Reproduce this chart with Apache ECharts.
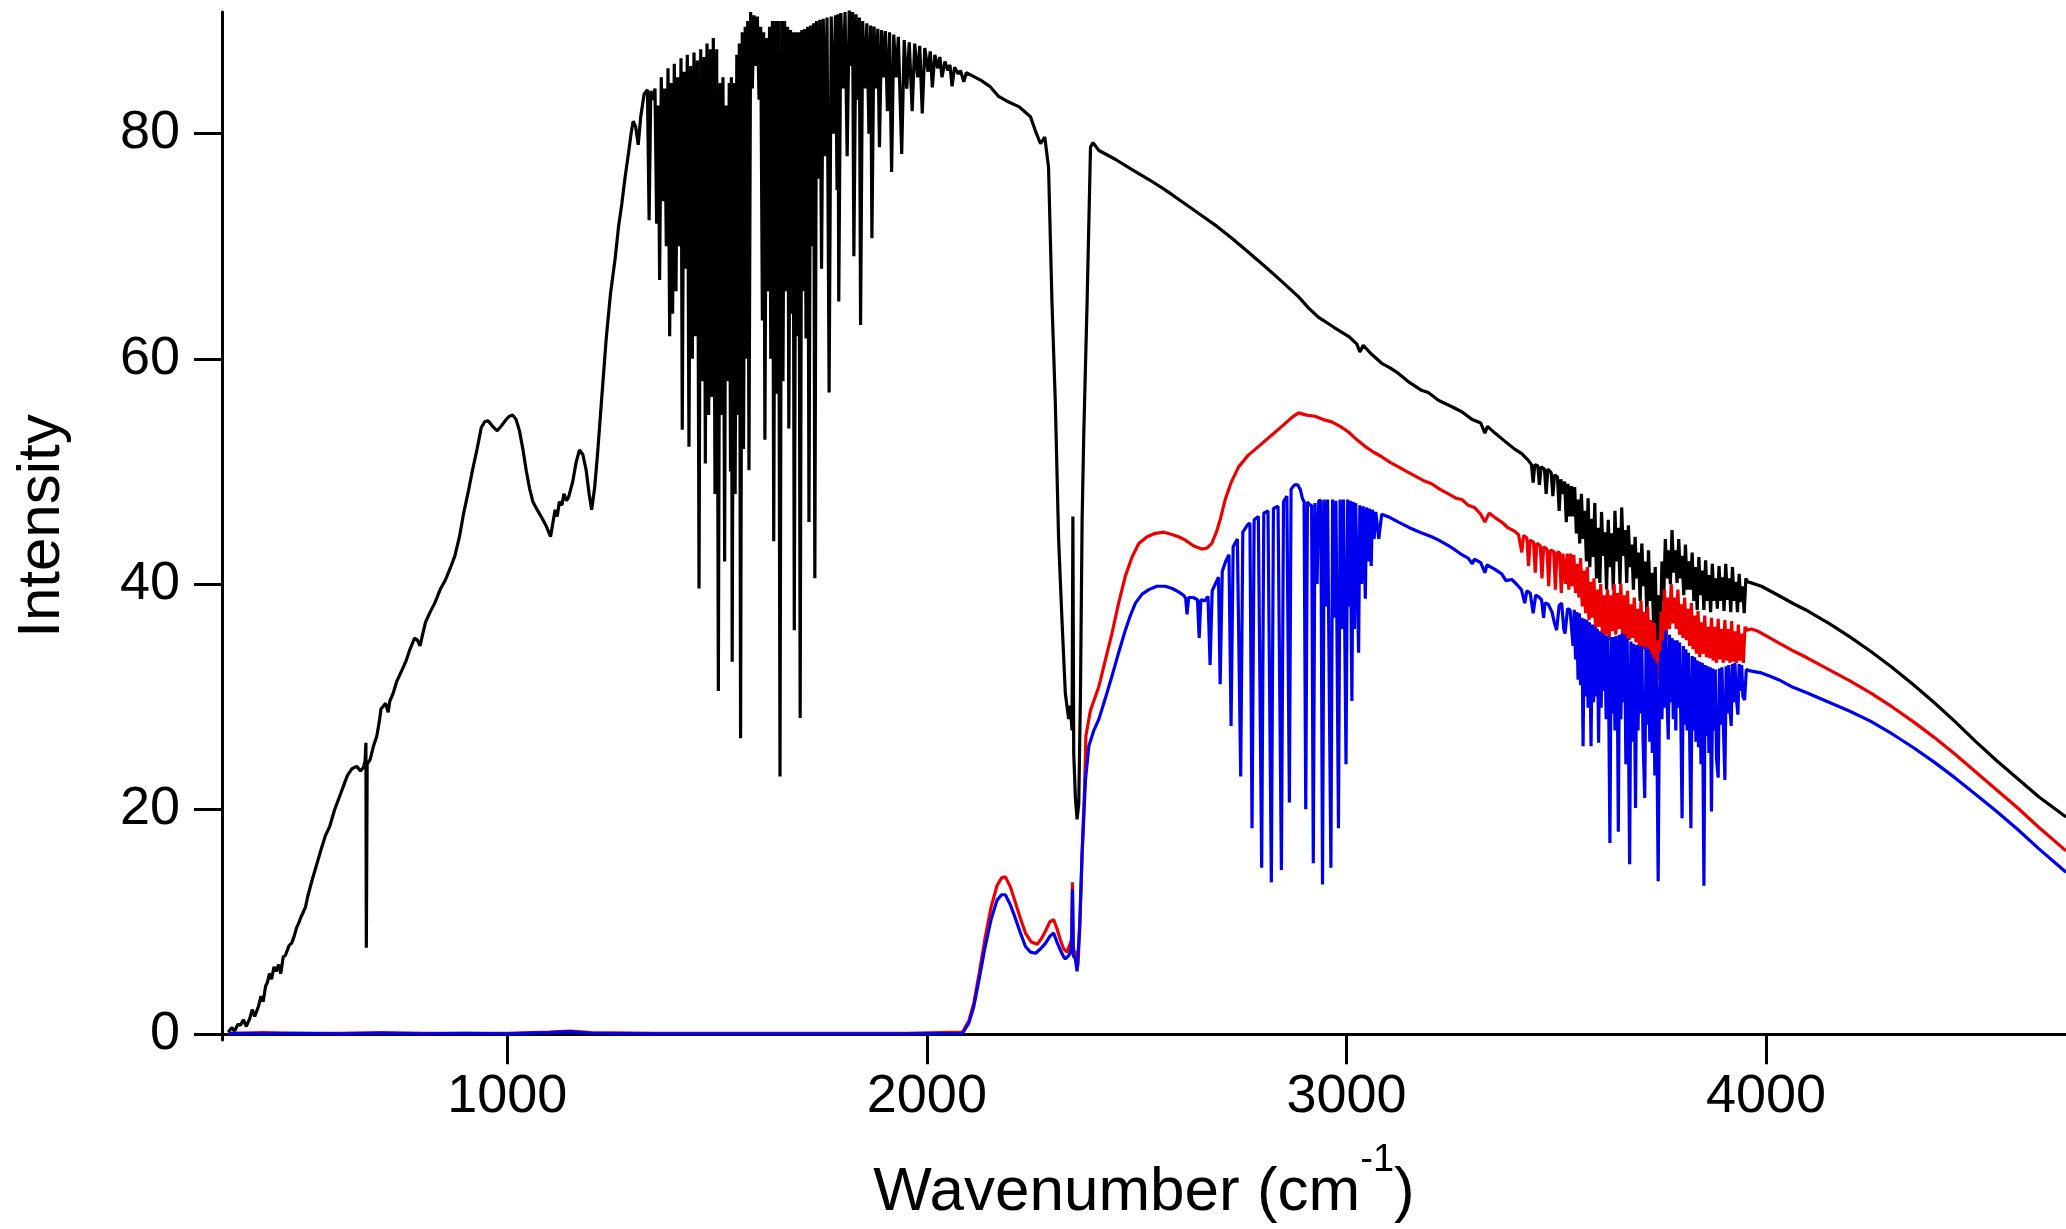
<!DOCTYPE html>
<html>
<head>
<meta charset="utf-8">
<script src="https://cdn.jsdelivr.net/npm/echarts@6/dist/echarts.min.js"></script>
<style>
  html, body { margin: 0; padding: 0; background: #fff; }
  #chart { width: 2066px; height: 1229px; }
</style>
</head>
<body>
<div id="chart"></div>
<script>
// tick values
var xTicks = [1000, 2000, 3000, 4000];
var yTicks = [0, 20, 40, 60, 80];

// black trace: [wavenumber, intensity]
var blackRise = [
  [335,0.2],[343,0.6],[350,0.3],[358,0.9],[364,0.8],[371,1.3],[378,0.7],[386,1.4],[392,2.2],[398,1.6],
  [407,2.5],[413,3.4],[418,2.9],[424,4.3],[428,4.6],[433,5.4],[438,4.9],[444,6.0],[449,5.6],[455,6.2],
  [460,5.4],[466,6.9],[471,7.0],[480,7.9],[486,8.1],[492,8.7],[498,9.5],[503,9.9],[508,10.4],[513,10.8],
  [519,11.3],[524,12.2],[534,13.6],[545,15.0],[556,16.4],[566,17.6],[577,18.5],[588,19.9],[598,20.9],
  [609,22.0],[619,23.0],[630,23.6],[641,23.8],[650,23.4],[657,23.7],[661,24.3],[663,25.9],[664,7.7],
  [666,24.0],[673,24.4],[681,25.6],[689,26.5],[695,27.8],[699,28.9],[710,29.4],[716,28.6],[720,29.6],
  [728,30.3],[736,31.3],[747,32.2],[758,33.1],[768,34.2],[779,35.2],[786,35.0],[792,34.5],[798,35.5],
  [805,36.6],[816,37.5],[827,38.3],[840,39.5],[853,40.4],[864,41.4],[875,42.5],[886,44.2],[896,46.3],
  [907,48.2],[917,50.1],[928,52.0],[938,53.9],[946,54.4],[954,54.5],[965,54.0],[976,53.6],[987,54.1],
  [997,54.6],[1005,54.9],[1013,55.0],[1021,54.6],[1029,53.6],[1037,52.0],[1045,50.1],[1053,48.5],
  [1061,47.3],[1071,46.6],[1082,45.9],[1092,45.2],[1103,44.2],[1109,45.5],[1114,46.6],[1119,46.0],
  [1124,47.3],[1130,47.0],[1135,48.0],[1141,47.4],[1146,47.7],[1151,48.4],[1156,49.1],[1164,50.8],
  [1172,51.9],[1180,51.5],[1188,50.1],[1195,48.0],[1201,46.6],[1208,48.5],[1215,51.5],[1225,56.5],
  [1236,61.9],[1246,65.8],[1257,68.9],[1265,71.7],[1273,73.8],[1281,76.2],[1289,78.3],[1295,80.0],
  [1300,81.1],[1306,80.6],[1312,79.0],[1318,81.5],[1326,83.5],[1334,83.9],[1338,72.3],[1342,83.8],[1348,83.0]
];
var blackBand = [
  [1352,84.0],[1356,72.0],[1360,82.5],[1363,67.0],[1367,85.0],[1371,74.0],[1375,84.0],[1379,70.0],
  [1383,85.8],[1387,62.0],[1391,84.5],[1394,64.0],[1398,86.2],[1402,66.0],[1406,85.0],[1410,70.0],
  [1414,86.7],[1417,53.7],[1421,85.5],[1425,68.0],[1429,87.0],[1433,52.2],[1437,86.0],[1441,60.0],
  [1445,87.2],[1449,62.0],[1453,86.5],[1457,39.6],[1461,87.5],[1465,58.0],[1469,86.8],[1472,50.7],
  [1476,88.0],[1480,55.0],[1484,87.5],[1488,56.6],[1491,88.5],[1495,48.0],[1499,87.5],[1503,30.5],
  [1507,84.5],[1510,55.0],[1514,85.0],[1518,42.0],[1521,82.5],[1525,58.0],[1529,84.5],[1532,50.0],
  [1534,85.0],[1536,33.1],[1540,84.5],[1543,48.0],[1547,87.0],[1550,55.0],[1553,88.0],[1556,26.3],
  [1560,89.0],[1563,52.0],[1567,89.5],[1570,60.0],[1573,90.0],[1576,50.1],[1580,90.8],[1584,84.0],
  [1588,90.5],[1592,86.0],[1596,90.4],[1600,83.0],[1604,89.5],[1608,63.4],[1611,89.0],[1614,52.8],
  [1618,88.5],[1621,66.0],[1625,89.5],[1628,60.0],[1632,90.0],[1635,43.8],[1639,90.0],[1642,56.9],
  [1646,90.0],[1650,22.9],[1654,90.0],[1657,58.0],[1661,90.0],[1664,66.0],[1668,89.5],[1671,53.8],
  [1675,89.2],[1678,64.0],[1681,89.0],[1684,35.9],[1688,89.0],[1691,62.0],[1695,89.0],[1698,28.1],
  [1702,89.2],[1705,66.0],[1709,89.3],[1712,61.8],[1716,89.5],[1719,45.5],[1723,89.6],[1726,70.0],
  [1730,89.8],[1733,40.5],[1737,90.0],[1741,76.0],[1745,90.1],[1749,68.0],[1753,90.2],[1758,78.0],
  [1762,90.3],[1767,57.0],[1772,90.4],[1777,80.0],[1782,90.5],[1786,75.0],[1788,90.6],[1790,65.1],
  [1795,90.7],[1800,84.0],[1805,90.8],[1810,78.0],[1815,91.0],[1820,86.0],[1823,90.8],[1826,69.1],
  [1831,90.6],[1836,83.0],[1839,90.3],[1842,63.0],[1847,90.0],[1852,84.0],[1857,89.8],[1862,80.0],
  [1866,89.6],[1869,70.7],[1874,89.5],[1879,84.0],[1883,89.3],[1887,78.8],[1892,89.2],[1897,85.0],
  [1901,89.1],[1906,82.0],[1911,89.0],[1916,76.6],[1921,88.8],[1927,85.0],[1932,88.6],[1940,78.2],
  [1946,88.3],[1952,84.0],[1958,88.1],[1965,82.0],[1971,88.0],[1978,85.0],[1983,87.8],[1989,81.8],
  [1995,87.6],[2003,85.5],[2008,87.3],[2013,84.1],[2019,87.0],[2026,85.8],[2031,86.8],[2036,85.0],
  [2043,86.4],[2050,85.6],[2055,86.1],[2060,84.2],[2066,85.9],[2075,85.3],[2080,85.6],[2088,84.6],[2094,85.4]
];
var blackSlope = [
  [2110,85.1],[2130,84.7],[2150,84.2],[2171,83.3],[2190,82.9],[2219,82.4],[2247,81.5],[2259,80.2],
  [2271,79.1],[2281,79.7],[2290,77.0],[2298,65.2],[2306,56.3],[2314,44.0],[2322,36.8],[2330,30.3],
  [2338,28.0],[2342,29.2],[2346,27.0],[2348,46.0],[2350,25.0],[2354,21.0],[2358,19.1],[2362,20.5],
  [2366,30.0],[2370,45.7],[2374,53.4],[2382,65.2],[2390,78.8],[2396,79.2],[2410,78.5],[2450,77.7],
  [2489,76.8],[2530,75.9],[2568,75.0],[2610,73.9],[2648,72.9],[2690,71.8],[2727,70.7],[2765,69.5],
  [2806,68.2],[2845,66.9],[2886,65.5],[2910,64.5],[2933,63.7],[2970,62.8],[3005,62.0],[3025,61.3],
  [3032,60.6],[3040,61.2],[3060,60.4],[3084,59.6],[3104,59.2],[3124,58.7],[3150,57.9],[3179,57.2],
  [3195,57.0],[3220,56.3],[3243,55.9],[3275,55.3],[3300,54.6],[3320,54.3],[3330,53.4],[3336,54.0],
  [3354,53.4],[3380,52.6],[3400,52.0],[3417,51.6],[3433,51.0]
];
var blackBandB = [
  [3441,50.6],[3445,49.0],[3449,50.6],[3456,50.5],[3460,48.8],[3464,50.4],[3472,50.2],[3476,48.0],
  [3480,50.2],[3488,49.9],[3492,47.8],[3496,49.7],[3503,49.5],[3507,46.5],[3511,49.3],[3516,48.0],
  [3520,49.1],[3524,45.5],[3528,48.9],[3532,46.0],[3536,48.7],[3540,46.0],[3544,48.6],[3548,44.5],
  [3552,47.5],[3556,43.6],[3560,48.0],[3564,44.0],[3568,46.5],[3572,42.0],[3576,47.6],[3580,41.5],
  [3584,45.8],[3588,42.4],[3592,47.2],[3596,40.5],[3600,45.0],[3604,40.1],[3608,46.4],[3612,42.5],
  [3616,44.6],[3620,39.5],[3624,45.7],[3628,41.5],[3632,44.5],[3636,39.5],[3640,46.5],[3644,42.0],
  [3648,45.0],[3652,40.0],[3656,46.8],[3660,42.5],[3664,44.8],[3668,40.1],[3672,45.2],[3676,41.5],
  [3680,43.5],[3684,39.5],[3688,44.2],[3692,40.5],[3696,42.8],[3700,38.5],[3704,43.6],[3708,39.8],
  [3712,42.0],[3716,37.4],[3720,43.0],[3724,38.5],[3728,41.0],[3732,36.5],[3736,41.5],[3740,34.2],
  [3744,39.0],[3748,35.0],[3752,42.0],[3756,38.5],[3760,44.0],[3764,40.5],[3768,43.0],[3772,40.0],
  [3776,44.8],[3780,41.0],[3784,43.0],[3788,40.1],[3792,44.0],[3796,40.5],[3800,42.5],[3804,39.0],
  [3808,43.5],[3812,39.5],[3816,42.0],[3820,39.5],[3824,42.8],[3828,38.5],[3832,41.5],[3836,37.7],
  [3840,42.4],[3844,39.0],[3848,41.2],[3852,37.7],[3856,42.1],[3860,38.5],[3864,40.8],[3868,37.5],
  [3872,41.8],[3876,38.5],[3880,40.5],[3884,37.8],[3888,41.6],[3892,38.5],[3896,40.6],[3900,37.6],
  [3904,41.8],[3908,38.6],[3912,40.5],[3916,37.5],[3920,41.5],[3924,38.5],[3928,40.2],[3932,37.5],
  [3936,40.9],[3940,38.4],[3944,39.8],[3948,37.4],[3952,40.5],[3956,40.2]
];
var blackTail = [
  [3965,40.1],[3989,39.8],[4029,39.0],[4068,38.2],[4100,37.6],[4150,36.5],[4200,35.3],[4250,34.0],
  [4300,32.6],[4350,31.1],[4400,29.5],[4450,27.8],[4500,26.0],[4550,24.3],[4600,22.7],[4650,21.1],[4715,19.3]
];

// red trace
var redLow = [
  [335,0.1],[420,0.15],[500,0.1],[600,0.1],[700,0.15],[800,0.1],[900,0.1],[1000,0.1],[1100,0.2],
  [1150,0.3],[1200,0.15],[1350,0.1],[1500,0.1],[1650,0.1],[1800,0.1],[1950,0.1],[2085,0.2],[2100,1.2],
  [2112,2.8],[2125,5.5],[2139,8.6],[2153,11.3],[2167,13.2],[2178,13.9],[2187,14.0],[2199,13.1],
  [2211,11.7],[2223,10.3],[2235,9.0],[2249,8.2],[2263,8.0],[2273,8.5],[2283,9.2],[2293,10.0],[2302,10.2],
  [2310,9.4],[2318,8.4],[2326,7.6],[2334,7.3],[2342,8.1],[2345,8.5],[2347,13.5],[2349,7.5],[2354,7.3],
  [2360,6.1],[2365,10.0],[2370,16.1],[2376,22.0],[2379,26.5],[2390,28.8],[2410,30.9],[2425,33.2],
  [2441,35.6],[2457,38.3],[2473,40.7],[2489,42.4],[2505,43.6],[2525,44.2],[2544,44.5],[2565,44.6],
  [2584,44.4],[2600,44.2],[2616,43.9],[2635,43.4],[2655,43.1],[2668,43.2],[2679,43.6],[2690,44.6],
  [2699,45.7],[2711,47.5],[2725,49.0],[2743,50.4],[2765,51.4],[2790,52.2],[2818,53.1],[2846,54.0],
  [2870,54.8],[2886,55.2],[2905,55.0],[2925,54.9],[2945,54.6],[2965,54.4],[2985,54.0],[3005,53.5],
  [3025,52.8],[3045,52.2],[3065,51.7],[3084,51.3],[3104,50.8],[3124,50.4],[3143,50.0],[3163,49.6],
  [3183,49.2],[3203,48.9],[3223,48.4],[3243,48.0],[3262,47.6],[3275,47.5],[3290,47.0],[3305,46.8],
  [3320,46.2],[3330,45.5],[3340,46.3],[3354,45.9],[3370,45.5],[3385,45.0],[3400,44.7]
];
var redBand = [
  [3410,44.4],[3418,42.8],[3422,44.3],[3430,44.1],[3434,41.6],[3438,43.9],[3446,43.7],[3450,41.0],
  [3454,43.6],[3462,43.4],[3466,40.5],[3470,43.3],[3478,43.1],[3482,39.8],[3486,43.0],[3494,42.9],
  [3498,39.5],[3502,42.8],[3508,42.8],[3512,39.2],[3516,42.7],[3522,40.0],[3526,42.7],[3530,39.5],
  [3534,42.7],[3538,39.8],[3542,42.6],[3546,39.2],[3550,41.8],[3554,38.8],[3558,42.3],[3562,38.0],
  [3566,41.2],[3570,37.4],[3574,41.5],[3578,36.8],[3582,40.2],[3586,37.0],[3590,40.5],[3594,35.6],
  [3598,39.5],[3602,36.2],[3606,40.0],[3610,35.3],[3614,39.0],[3618,35.5],[3622,39.5],[3626,35.0],
  [3630,39.0],[3634,35.8],[3638,40.0],[3642,35.5],[3646,39.2],[3650,36.0],[3654,40.0],[3658,35.5],
  [3662,39.0],[3666,35.2],[3670,39.4],[3674,35.0],[3678,38.2],[3682,35.2],[3686,38.8],[3690,34.8],
  [3694,37.8],[3698,34.5],[3702,38.5],[3706,34.2],[3710,37.5],[3714,34.0],[3718,38.0],[3722,33.5],
  [3726,36.8],[3730,32.5],[3734,36.5],[3738,30.3],[3742,35.0],[3746,31.5],[3750,37.5],[3754,34.0],
  [3758,39.5],[3762,35.0],[3766,38.8],[3770,36.0],[3774,40.0],[3778,36.5],[3782,38.8],[3786,36.0],
  [3790,39.5],[3794,35.5],[3798,38.2],[3802,35.2],[3806,38.8],[3810,35.0],[3814,37.8],[3818,34.5],
  [3822,38.3],[3826,34.2],[3830,37.2],[3834,33.8],[3838,37.6],[3842,33.5],[3846,36.6],[3850,33.8],
  [3854,37.2],[3858,33.5],[3862,36.2],[3866,33.4],[3870,37.0],[3874,33.2],[3878,36.2],[3882,33.0],
  [3886,36.9],[3890,33.3],[3894,36.0],[3898,33.0],[3902,36.8],[3906,33.2],[3910,36.0],[3914,33.0],
  [3918,36.7],[3922,33.1],[3926,35.8],[3930,33.0],[3934,36.4],[3938,33.2],[3942,35.6],[3946,33.0],
  [3950,36.2],[3955,35.9]
];
var redTail = [
  [3965,36.0],[3981,35.8],[4005,35.3],[4029,34.8],[4068,34.0],[4100,33.4],[4150,32.4],[4200,31.4],
  [4250,30.3],[4300,29.1],[4350,27.8],[4400,26.4],[4450,24.9],[4500,23.3],[4550,21.7],[4600,20.1],
  [4650,18.4],[4715,16.3]
];

// blue trace
var blueLow = [
  [335,0.1],[420,0.05],[500,0.1],[600,0.05],[700,0.1],[800,0.05],[900,0.1],[1000,0.05],[1100,0.15],
  [1150,0.25],[1200,0.1],[1350,0.05],[1500,0.05],[1650,0.05],[1800,0.05],[1950,0.05],[2085,0.1],
  [2100,1.0],[2112,2.5],[2125,5.0],[2139,7.8],[2153,10.2],[2167,11.9],[2178,12.4],[2187,12.4],
  [2199,11.5],[2211,10.3],[2223,9.0],[2235,7.8],[2247,7.3],[2259,7.2],[2271,7.6],[2283,8.1],[2293,8.7],
  [2302,9.0],[2310,8.2],[2318,7.5],[2326,6.9],[2330,6.7],[2338,7.0],[2342,7.3],[2345,8.0],[2347,12.9],
  [2349,7.0],[2354,6.7],[2358,5.6],[2364,9.5],[2370,16.1],[2378,22.6],[2386,25.6],[2398,27.0],
  [2410,28.0],[2425,29.8],[2441,31.8],[2457,33.9],[2473,35.9],[2485,37.2],[2497,38.3],[2513,39.1],
  [2529,39.5],[2548,39.8],[2568,39.8],[2585,39.6]
];
var blueBandA = [
  [2600,39.3],[2612,39.0],[2617,38.7],[2620,37.3],[2624,38.8],[2635,38.8],[2645,38.6],[2649,35.2],
  [2653,38.6],[2662,38.5],[2670,38.9],[2675,32.8],[2680,39.4],[2690,40.2],[2695,40.6],[2699,31.1],
  [2704,41.1],[2712,42.0],[2720,42.6],[2725,27.4],[2730,43.3],[2740,44.0],[2748,22.9],[2753,44.6],
  [2765,45.3],[2770,45.4],[2775,18.3],[2780,45.7],[2790,46.0],[2794,46.1],[2798,14.8],[2803,46.3],
  [2813,46.5],[2817,46.6],[2821,13.5],[2826,46.7],[2837,46.9],[2841,47.0],[2845,14.6],[2850,47.3],
  [2858,47.8],[2861,47.9],[2864,20.6],[2868,48.4],[2876,48.8],[2884,48.8],[2890,48.4],[2895,47.6],
  [2899,47.3],[2903,20.0],[2907,47.3],[2912,47.0],[2917,47.0],[2921,15.2],[2925,47.2],[2930,40.0],
  [2934,47.4],[2939,47.4],[2943,13.3],[2947,47.5],[2951,38.0],[2955,47.5],[2959,47.5],[2963,14.8],
  [2967,47.5],[2971,37.0],[2975,47.4],[2978,47.4],[2981,18.3],[2985,47.5],[2989,36.0],[2993,47.5],
  [2996,47.5],[2999,24.0],[3003,47.5],[3006,38.0],[3009,47.4],[3011,47.4],[3013,29.6],[3016,47.3],
  [3019,36.0],[3022,47.2],[3026,47.1],[3029,33.9],[3032,47.0],[3036,40.0],[3040,46.9],[3043,46.9],
  [3045,38.7],[3048,46.8],[3052,42.0],[3055,46.7],[3059,41.6],[3062,46.6],[3066,44.0],[3070,46.4],
  [3077,44.0],[3084,46.2]
];
var blueMid = [
  [3104,45.9],[3124,45.5],[3150,45.0],[3175,44.6],[3203,44.2],[3220,43.9],[3243,43.4],[3260,43.0],
  [3275,42.6],[3290,42.3],[3300,41.8],[3305,42.2],[3320,41.9],[3330,41.0],[3335,41.7],[3354,41.3],
  [3370,40.9],[3380,40.3],[3394,40.4],[3405,40.0],[3417,39.5],[3425,38.3],[3430,39.4],[3438,39.2],
  [3445,37.4],[3451,39.0],[3457,38.9],[3465,38.6],[3470,37.0],[3473,38.3],[3481,38.2],[3490,37.5],
  [3496,36.5],[3501,35.9],[3507,38.1],[3513,38.3],[3518,36.0],[3521,35.6],[3527,37.8],[3533,37.7]
];
var blueBandB = [
  [3536,37.7],[3540,34.5],[3543,37.7],[3546,33.3],[3549,37.5],[3552,31.5],[3555,37.4],[3558,31.0],
  [3561,37.0],[3564,25.6],[3567,36.9],[3570,30.0],[3573,36.8],[3576,29.0],[3579,36.6],[3583,25.6],
  [3586,36.4],[3589,29.5],[3592,36.2],[3595,30.0],[3598,36.0],[3601,25.9],[3604,35.8],[3607,29.0],
  [3610,35.6],[3613,30.5],[3616,35.5],[3619,28.0],[3622,35.4],[3625,30.0],[3628,17.0],[3631,35.3],
  [3634,28.5],[3637,35.3],[3640,27.0],[3643,35.4],[3646,29.0],[3648,18.0],[3651,35.5],[3654,28.0],
  [3657,35.6],[3660,29.5],[3663,35.5],[3666,24.0],[3669,35.2],[3672,27.5],[3675,15.1],[3678,34.9],
  [3681,26.0],[3684,34.7],[3687,28.0],[3689,20.1],[3692,34.6],[3695,27.0],[3698,34.5],[3701,28.5],
  [3704,34.5],[3707,26.0],[3711,21.0],[3714,34.4],[3717,27.5],[3720,34.2],[3723,26.0],[3726,33.8],
  [3729,25.0],[3732,33.4],[3735,23.0],[3738,33.0],[3740,26.0],[3743,13.6],[3746,30.0],[3749,34.0],
  [3752,28.0],[3755,35.0],[3758,29.0],[3761,35.9],[3764,30.0],[3767,26.2],[3770,35.5],[3773,29.5],
  [3776,35.2],[3779,28.0],[3782,35.0],[3785,27.0],[3788,35.0],[3791,29.0],[3794,34.8],[3797,28.0],
  [3800,19.2],[3803,34.5],[3806,27.5],[3809,34.2],[3812,27.0],[3815,33.9],[3818,26.5],[3821,18.3],
  [3824,33.6],[3827,27.0],[3830,33.5],[3833,26.0],[3836,33.2],[3839,25.5],[3842,33.1],[3845,24.0],
  [3848,33.0],[3852,13.2],[3855,32.8],[3858,26.5],[3861,32.7],[3864,25.0],[3867,32.6],[3870,19.8],
  [3873,32.5],[3876,27.0],[3879,32.4],[3882,24.5],[3886,22.8],[3889,32.5],[3892,27.5],[3895,32.6],
  [3898,28.0],[3902,22.6],[3905,32.7],[3908,28.5],[3911,32.8],[3914,29.0],[3917,27.4],[3920,32.9],
  [3923,29.5],[3926,33.0],[3929,30.0],[3933,28.4],[3936,32.9],[3939,30.5],[3942,32.8],[3945,30.0],
  [3949,29.7],[3953,32.4]
];
var blueTail = [
  [3960,32.3],[3975,32.2],[3989,32.1],[4010,31.8],[4030,31.5],[4060,30.9],[4100,30.3],[4150,29.5],
  [4200,28.7],[4250,27.8],[4300,26.7],[4350,25.5],[4400,24.2],[4450,22.8],[4500,21.3],[4550,19.8],
  [4600,18.2],[4650,16.5],[4715,14.4]
];

var blackSpectrum = blackRise.concat(blackBand, blackSlope, blackBandB, blackTail);
var redSpectrum = redLow.concat(redBand, redTail);
var blueSpectrum = blueLow.concat(blueBandA, blueMid, blueBandB, blueTail);

var font = 'Liberation Sans, Arial, sans-serif';
var chart = echarts.init(document.getElementById('chart'));

function trace(data, color) {
  return {
    type: 'line',
    data: data,
    showSymbol: false,
    symbol: 'none',
    smooth: false,
    animation: false,
    lineStyle: { color: color, width: 3.2 }
  };
}

var option = {
  backgroundColor: '#fff',
  animation: false,
  grid: { left: 222, top: 12, right: 0, bottom: 188, containLabel: false },
  xAxis: {
    type: 'value',
    min: 320,
    max: 4715,
    axisLine: { show: true, lineStyle: { color: '#000', width: 3 } },
    axisTick: { show: true, inside: false, length: 30, customValues: xTicks, lineStyle: { color: '#000', width: 3 } },
    axisLabel: {
      customValues: xTicks, color: '#000', fontSize: 54, fontFamily: font, margin: 30,
      formatter: function (v) { return String(v); }
    },
    splitLine: { show: false },
    name: '{n|Wavenumber (cm}{s|-1}{n|)}',
    nameLocation: 'middle',
    nameGap: 112,
    nameTextStyle: {
      fontFamily: font,
      color: '#000',
      rich: {
        n: { fontSize: 62, fontFamily: font, color: '#000', lineHeight: 72, verticalAlign: 'bottom' },
        s: { fontSize: 38, fontFamily: font, color: '#000', lineHeight: 40, padding: [0, 0, 44, 0], verticalAlign: 'bottom' }
      }
    }
  },
  yAxis: {
    type: 'value',
    min: -0.5,
    max: 90.8,
    axisLine: { show: true, lineStyle: { color: '#000', width: 3 } },
    axisTick: { show: true, inside: false, length: 28, customValues: yTicks, lineStyle: { color: '#000', width: 3 } },
    axisLabel: { customValues: yTicks, color: '#000', fontSize: 54, fontFamily: font, margin: 42 },
    splitLine: { show: false },
    name: 'Intensity',
    nameLocation: 'middle',
    nameRotate: 90,
    nameGap: 150,
    nameTextStyle: { fontSize: 60, fontFamily: font, color: '#000' }
  },
  series: [
    trace(blackSpectrum, '#000000'),
    trace(redSpectrum, '#ee0000'),
    trace(blueSpectrum, '#0000ee')
  ]
};
chart.setOption(option);
</script>
</body>
</html>
